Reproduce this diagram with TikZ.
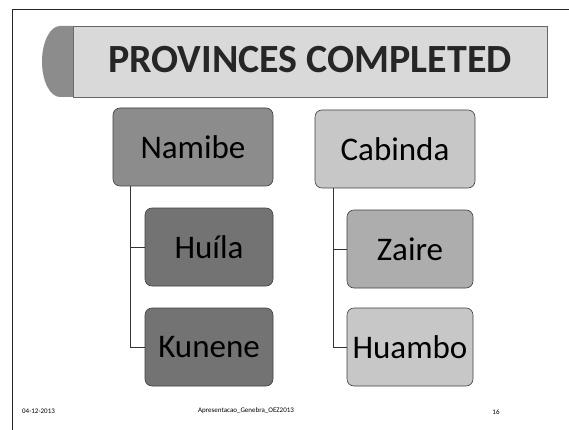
\documentclass[tikz,border=0pt]{standalone}
\usepackage{fontspec}
\setmainfont{Carlito}
\begin{document}
\begin{tikzpicture}[x=1pt,y=-1pt,
  box/.style={draw=black!75, line width=0.6pt, rounded corners=7pt, minimum width=#1, minimum height=78pt, inner sep=0pt, font=\fontsize{33}{35}\selectfont},
  conn/.style={draw=black!80, line width=0.7pt},
  foot/.style={font=\fontsize{7}{8}\selectfont, inner sep=0pt}]
\useasboundingbox (0,0) rectangle (569,430);
\fill[white] (0,0) rectangle (569,430);
% frame
\draw[line width=1pt, black!85] (12,430) -- (12,10) -- (569,10);
% title banner
\draw[fill=black!15, draw=black!60, line width=0.6pt] (73,26) rectangle (547,97);
\fill[black!45] (73,26) -- (60,26) arc[start angle=270, end angle=90, x radius=18, y radius=35.5] -- (73,97) -- cycle;
\node[font=\bfseries\fontsize{40}{42}\selectfont, text=black!85] (title) at (310,60) {PROVINCES COMPLETED};
% left tree
\node[box=160pt, fill=black!45] (namibe) at (193,147) {Namibe};
\node[box=128pt, fill=black!55] (huila) at (209,247) {Huíla};
\node[box=128pt, fill=black!55] (kunene) at (209,347) {Kunene};
% right tree
\node[box=160pt, fill=black!22] (cabinda) at (395,149) {Cabinda};
\node[box=126pt, fill=black!32] (zaire) at (410,249) {Zaire};
\node[box=126pt, fill=black!22] (huambo) at (410,347) {Huambo};
% connectors
\coordinate (lt) at (130,0);
\draw[conn] (namibe.south -| lt) |- (huila.west);
\draw[conn] (namibe.south -| lt) |- (kunene.west);
\coordinate (rt) at (333,0);
\draw[conn] (cabinda.south -| rt) |- (zaire.west);
\draw[conn] (cabinda.south -| rt) |- (huambo.west);
% footer
\node[foot, anchor=west] (date) at (22,411) {04-12-2013};
\node[foot] (file) at (246,411) {Apresentacao\_Genebra\_OEZ2013};
\node[foot] (page) at (496,412) {16};
\end{tikzpicture}
\end{document}
